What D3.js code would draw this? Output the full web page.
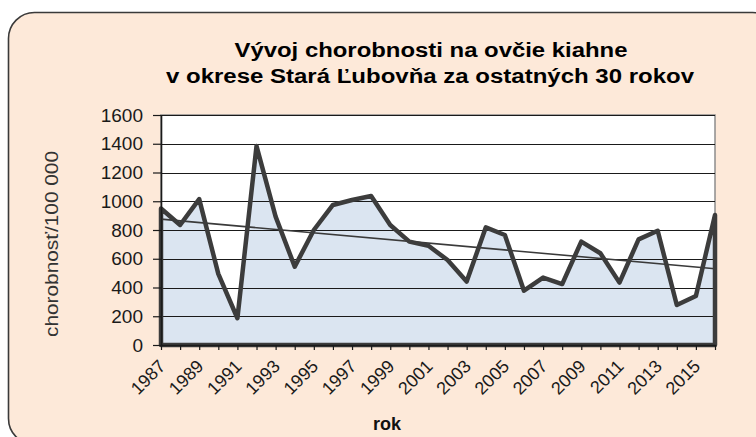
<!DOCTYPE html>
<html>
<head>
<meta charset="utf-8">
<script src="https://cdn.jsdelivr.net/npm/d3@7"></script>
<style>
    body { margin: 0; background: #ffffff; }
    svg text { font-family: "Liberation Sans", Arial, sans-serif; }
</style>
</head>
<body>
<svg id="chart" width="756" height="437"></svg>
<script>
    // data
    var years = [1987, 1988, 1989, 1990, 1991, 1992, 1993, 1994, 1995, 1996,
                 1997, 1998, 1999, 2000, 2001, 2002, 2003, 2004, 2005, 2006,
                 2007, 2008, 2009, 2010, 2011, 2012, 2013, 2014, 2015, 2016];
    var values = [950, 835, 1015, 495, 186, 1384, 893, 545, 800, 974,
                  1009, 1037, 835, 719, 690, 591, 441, 818, 765, 378,
                  469, 424, 719, 638, 434, 735, 795, 278, 341, 904];
    var yTicks = [0, 200, 400, 600, 800, 1000, 1200, 1400, 1600];
    var xLabelYears = [1987, 1989, 1991, 1993, 1995, 1997, 1999, 2001,
                       2003, 2005, 2007, 2009, 2011, 2013, 2015];
    var titleLines = ["Vývoj chorobnosti na ovčie kiahne",
                      "v okrese Stará Ľubovňa za ostatných 30 rokov"];

    var svg = d3.select("#chart");

    // plot area edges (window.top is taken, so no plain "top")
    var plotL = 161, plotR = 715, plotT = 115, plotB = 345;

    // chart frame
    svg.append("rect")
        .attr("x", 8.5).attr("y", 12.5)
        .attr("width", 770).attr("height", 432)
        .attr("rx", 26).attr("ry", 26)
        .attr("fill", "#fde9d9")
        .attr("stroke", "#3a3a3a")
        .attr("stroke-width", 1.6);

    var x = d3.scaleLinear().domain([years[0], years[years.length - 1]]).range([plotL, plotR]);
    var y = d3.scaleLinear().domain([0, 1600]).range([plotB, plotT]);

    svg.append("rect")
        .attr("x", plotL).attr("y", plotT)
        .attr("width", plotR - plotL).attr("height", plotB - plotT)
        .attr("fill", "#ffffff")
        .attr("stroke", "#8c8c8c")
        .attr("stroke-width", 1.5);

    var data = years.map(function (yr, i) { return {year: yr, value: values[i]}; });

    var area = d3.area()
        .x(function (d) { return x(d.year); })
        .y0(y(0))
        .y1(function (d) { return y(d.value); });

    svg.append("path")
        .attr("d", area(data))
        .attr("fill", "#dbe5f1");

    // gridlines
    svg.append("g").selectAll("line")
        .data(yTicks.slice(1))
        .enter().append("line")
        .attr("x1", plotL).attr("x2", plotR)
        .attr("y1", function (d) { return Math.round(y(d)) + 0.5; })
        .attr("y2", function (d) { return Math.round(y(d)) + 0.5; })
        .attr("stroke", "#1a1a1a")
        .attr("stroke-width", 1.2);

    // linear trend (least squares over the series)
    var mx = d3.mean(years), my = d3.mean(values);
    var sxy = d3.sum(years, function (yr, i) { return (yr - mx) * (values[i] - my); });
    var sxx = d3.sum(years, function (yr) { return (yr - mx) * (yr - mx); });
    var slope = sxy / sxx, icpt = my - slope * mx;
    var trend = years.map(function (yr) { return {year: yr, value: icpt + slope * yr}; });

    var line = d3.line()
        .x(function (d) { return x(d.year); })
        .y(function (d) { return y(d.value); });

    svg.append("path")
        .attr("d", line([trend[0], trend[trend.length - 1]]))
        .attr("fill", "none")
        .attr("stroke", "#3a3a3a")
        .attr("stroke-width", 1.6);

    // outline of the area series
    svg.append("path")
        .attr("d", area(data))
        .attr("fill", "none")
        .attr("stroke", "#3c3c3c")
        .attr("stroke-width", 4.5)
        .attr("stroke-linejoin", "round");

    // y axis
    var yAxis = d3.axisLeft(y).tickValues(yTicks).tickFormat(d3.format("d"))
        .tickSize(8).tickPadding(10).tickSizeOuter(0);
    var gy = svg.append("g")
        .attr("transform", "translate(" + plotL + ",0)")
        .call(yAxis);
    gy.select(".domain").attr("stroke", "#1a1a1a").attr("stroke-width", 1.6);
    gy.selectAll(".tick line").attr("stroke", "#1a1a1a").attr("stroke-width", 1.2);
    gy.selectAll(".tick text")
        .attr("font-size", 19).attr("fill", "#1a1a1a")
        .style("font-family", "'Liberation Sans', Arial, sans-serif");

    // x axis
    var xAxis = d3.axisBottom(x).tickValues(years).tickSize(5).tickFormat("").tickSizeOuter(0);
    var gx = svg.append("g")
        .attr("transform", "translate(0," + plotB + ")")
        .call(xAxis);
    gx.select(".domain").attr("stroke", "#1a1a1a").attr("stroke-width", 1.6);
    gx.selectAll(".tick line").attr("stroke", "#1a1a1a").attr("stroke-width", 1.2);

    svg.append("g").selectAll("text")
        .data(xLabelYears)
        .enter().append("text")
        .attr("transform", function (d) { return "translate(" + (x(d) + 1) + ",363) rotate(-45)"; })
        .attr("text-anchor", "end")
        .attr("dy", "0.35em")
        .attr("font-size", 18)
        .attr("fill", "#1a1a1a")
        .text(function (d) { return d; });

    // axis titles
    svg.append("text")
        .attr("transform", "translate(58,244) rotate(-90)")
        .attr("text-anchor", "middle")
        .attr("font-size", 19)
        .attr("fill", "#333333")
        .attr("textLength", 186)
        .attr("lengthAdjust", "spacingAndGlyphs")
        .text("chorobnosť/100 000");

    svg.append("text")
        .attr("x", 387).attr("y", 430)
        .attr("text-anchor", "middle")
        .attr("font-size", 18)
        .attr("font-weight", "bold")
        .attr("fill", "#111111")
        .text("rok");

    // title
    svg.append("text")
        .attr("x", 431).attr("y", 57)
        .attr("text-anchor", "middle")
        .attr("font-size", 20)
        .attr("font-weight", "bold")
        .attr("fill", "#000000")
        .attr("textLength", 393)
        .attr("lengthAdjust", "spacingAndGlyphs")
        .text(titleLines[0]);

    svg.append("text")
        .attr("x", 430).attr("y", 83)
        .attr("text-anchor", "middle")
        .attr("font-size", 20)
        .attr("font-weight", "bold")
        .attr("fill", "#000000")
        .attr("textLength", 528)
        .attr("lengthAdjust", "spacingAndGlyphs")
        .text(titleLines[1]);
</script>
</body>
</html>
